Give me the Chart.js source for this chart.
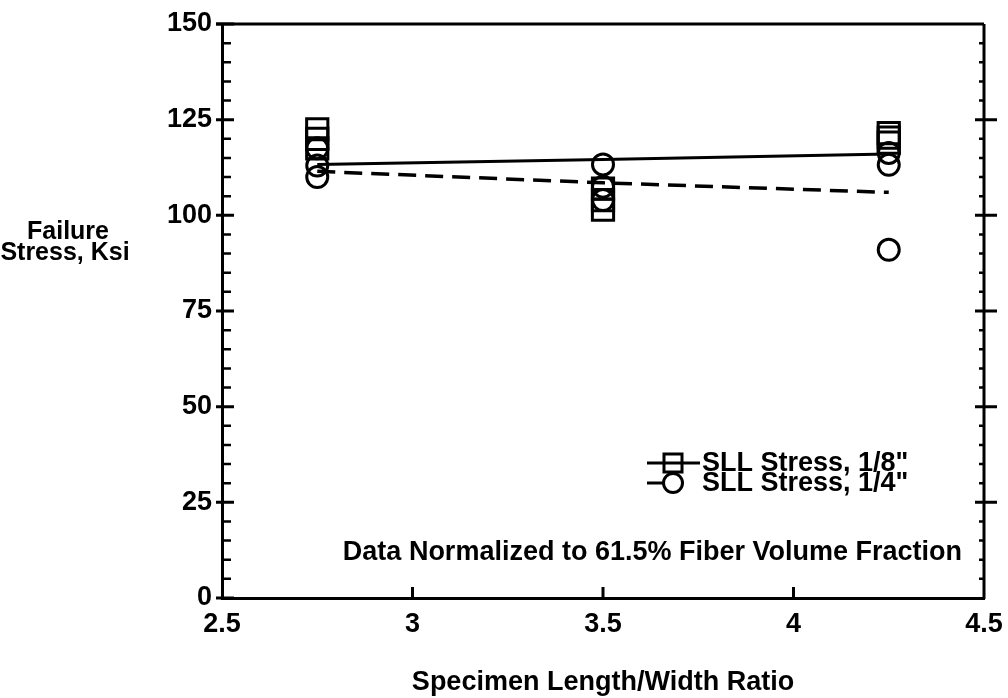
<!DOCTYPE html>
<html>
<head>
<meta charset="utf-8">
<script src="https://cdn.jsdelivr.net/npm/chart.js@4/dist/chart.umd.min.js"></script>
<style>
  html, body { margin: 0; padding: 0; background: #fff; }
  #wrap { width: 1008px; height: 698px; }
</style>
</head>
<body>
<div id="wrap"><canvas id="stressChart" width="1008" height="698"></canvas></div>
<script>
// Data
const ratios = [2.75, 3.5, 4.25];
const sqStress = [[122.5, 120, 117.5], [107, 104, 101.5], [121.5, 120.3, 119]];   // 1/8"
const ciStress = [[117.5, 113, 110], [113.3, 107.5, 104], [116.3, 113.2, 91]];   // 1/4"
const solidFit = [113.3, 114.6, 116];
const dashFit = [111.5, 108.5, 106];
const xTicks = [2.5, 3, 3.5, 4, 4.5];
const yTicks = [0, 25, 50, 75, 100, 125, 150];

const FONT = '"Liberation Sans", Arial, sans-serif';
const FSIZE = 27;

function toPoints(groups) {
    const pts = [];
    groups.forEach((g, i) => g.forEach(v => pts.push({ x: ratios[i], y: v })));
    return pts;
}

// frame, tick marks, legend and notes
const decor = {
    id: 'decor',
    afterDraw(chart) {
        const ctx = chart.ctx;
        const { left, right, top, bottom } = chart.chartArea;
        const xs = chart.scales.x, ys = chart.scales.y;
        ctx.save();
        ctx.strokeStyle = '#000';
        ctx.lineWidth = 3;
        ctx.beginPath();
        ctx.moveTo(left - 6, top); ctx.lineTo(right, top);
        ctx.moveTo(right, top); ctx.lineTo(right, bottom + 1);
        ctx.stroke();

        // y ticks
        for (let v = yTicks[0]; v <= yTicks[yTicks.length - 1]; v += 5) {
            const py = ys.getPixelForValue(v);
            const major = v % 25 === 0;
            ctx.lineWidth = major ? 3 : 2.5;
            ctx.beginPath();
            if (major) {
                ctx.moveTo(left - 6, py); ctx.lineTo(left + 12, py);
                if (v > 0 && v < 150) { ctx.moveTo(right - 9, py); ctx.lineTo(right + 13, py); }
            } else {
                ctx.moveTo(left, py); ctx.lineTo(left + 9, py);
                ctx.moveTo(right - 5, py); ctx.lineTo(right, py);
            }
            ctx.stroke();
        }
        // x ticks
        xTicks.slice(1, -1).forEach(v => {
            const px = xs.getPixelForValue(v);
            ctx.lineWidth = 3;
            ctx.beginPath();
            ctx.moveTo(px, bottom); ctx.lineTo(px, bottom - 11);
            ctx.stroke();
        });

        // legend
        ctx.fillStyle = '#000';
        ctx.font = 'bold ' + FSIZE + 'px ' + FONT;
        ctx.textBaseline = 'middle';
        ctx.textAlign = 'left';
        ctx.lineWidth = 3;
        // row 1: line through square
        let ry = 463;
        ctx.beginPath();
        ctx.rect(664, ry - 9, 18, 18);
        ctx.moveTo(647, ry); ctx.lineTo(700, ry);
        ctx.stroke();
        ctx.fillText('SLL Stress, 1/8"', 702, ry + 1);
        // row 2: line into circle
        ry = 483;
        ctx.beginPath();
        ctx.moveTo(647, ry); ctx.lineTo(663, ry);
        ctx.moveTo(682.5, ry); ctx.arc(673, ry, 9.5, 0, Math.PI * 2);
        ctx.stroke();
        ctx.fillText('SLL Stress, 1/4"', 702, ry + 1);

        // note
        ctx.textAlign = 'right';
        ctx.fillText('Data Normalized to 61.5% Fiber Volume Fraction', 962, 553);

        // axis titles
        ctx.textAlign = 'center';
        ctx.fillText('Specimen Length/Width Ratio', 603, 683);
        ctx.font = 'bold 25px ' + FONT;
        ctx.fillText('Failure', 68, 232);
        ctx.fillText('Stress, Ksi', 65, 253);
        ctx.restore();
    }
};

new Chart(document.getElementById('stressChart'), {
    type: 'scatter',
    data: {
        datasets: [
            {
                label: 'SLL Stress, 1/8"',
                data: toPoints(sqStress),
                pointStyle: 'rect',
                pointRadius: 15,
                borderColor: '#000',
                backgroundColor: 'rgba(0,0,0,0)',
                pointBorderWidth: 3
            },
            {
                label: 'SLL Stress, 1/4"',
                data: toPoints(ciStress),
                pointStyle: 'circle',
                pointRadius: 10.5,
                borderColor: '#000',
                backgroundColor: 'rgba(0,0,0,0)',
                pointBorderWidth: 3
            },
            {
                label: 'fit 1/8"',
                data: ratios.map((x, i) => ({ x: x, y: solidFit[i] })),
                showLine: true,
                pointRadius: 0,
                borderColor: '#000',
                borderWidth: 3
            },
            {
                label: 'fit 1/4"',
                data: ratios.map((x, i) => ({ x: x, y: dashFit[i] })),
                showLine: true,
                pointRadius: 0,
                borderColor: '#000',
                borderWidth: 3.5,
                borderDash: [18, 9]
            }
        ]
    },
    options: {
        responsive: false,
        animation: false,
        events: [],
        layout: { padding: { top: 24, right: 24, left: 0, bottom: 0 } },
        plugins: {
            legend: { display: false },
            tooltip: { enabled: false }
        },
        scales: {
            x: {
                type: 'linear',
                min: 2.5,
                max: 4.5,
                afterBuildTicks: s => { s.ticks = xTicks.map(v => ({ value: v })); },
                afterFit: s => { s.height = 100; s.paddingLeft = 0; s.paddingRight = 0; },
                grid: { drawOnChartArea: false, drawTicks: false },
                border: { display: true, color: '#000', width: 3 },
                ticks: {
                    color: '#000', padding: 10, maxRotation: 0,
                    font: { family: FONT, size: FSIZE, weight: 'bold' },
                    callback: v => String(v)
                }
            },
            y: {
                min: 0,
                max: 150,
                afterBuildTicks: s => { s.ticks = yTicks.map(v => ({ value: v })); },
                afterFit: s => { s.width = 222; s.paddingTop = 0; s.paddingBottom = 0; },
                grid: { drawOnChartArea: false, drawTicks: false },
                border: { display: true, color: '#000', width: 3 },
                ticks: { color: '#000', padding: 10, font: { family: FONT, size: FSIZE, weight: 'bold' } }
            }
        }
    },
    plugins: [decor]
});
</script>
</body>
</html>
